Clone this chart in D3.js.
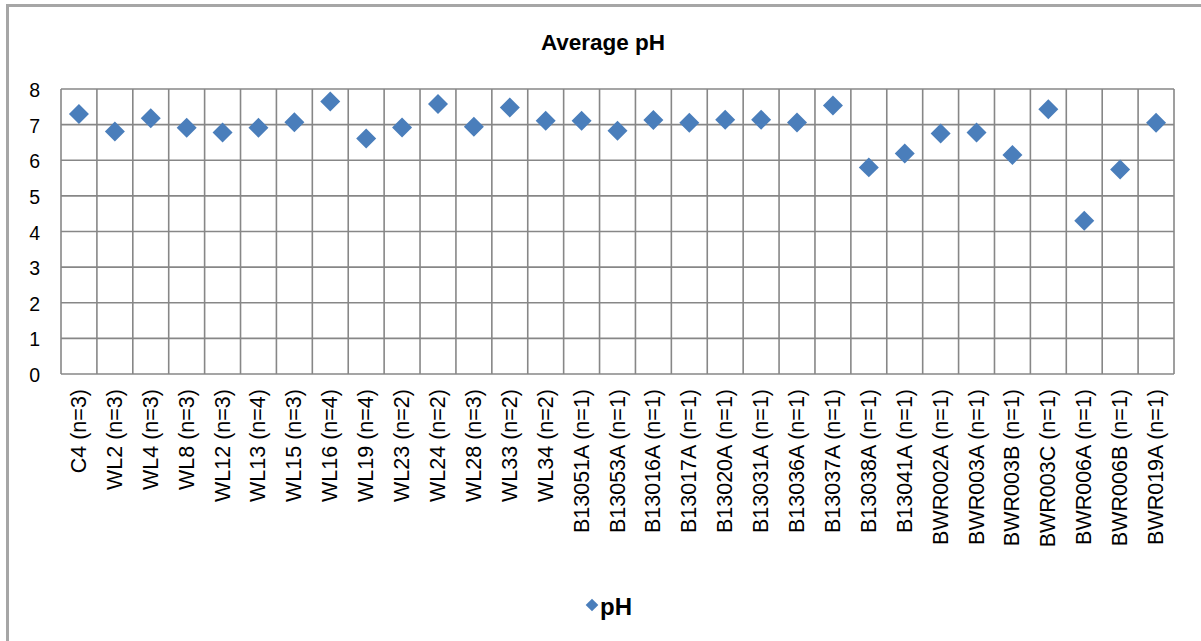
<!DOCTYPE html>
<html>
<head>
<meta charset="utf-8">
<script src="https://d3js.org/d3.v7.min.js"></script>
<style>
  body { margin: 0; background: #fff; }
  svg text { font-family: "Liberation Sans", Arial, sans-serif; fill: #000; }
</style>
</head>
<body>
<div id="chart"></div>
<script>
// sites along the x axis
var sites = ["C4 (n=3)", "WL2 (n=3)", "WL4 (n=3)", "WL8 (n=3)", "WL12 (n=3)", "WL13 (n=4)",
  "WL15 (n=3)", "WL16 (n=4)", "WL19 (n=4)", "WL23 (n=2)", "WL24 (n=2)", "WL28 (n=3)",
  "WL33 (n=2)", "WL34 (n=2)", "B13051A (n=1)", "B13053A (n=1)", "B13016A (n=1)",
  "B13017A (n=1)", "B13020A (n=1)", "B13031A (n=1)", "B13036A (n=1)", "B13037A (n=1)",
  "B13038A (n=1)", "B13041A (n=1)", "BWR002A (n=1)", "BWR003A (n=1)", "BWR003B (n=1)",
  "BWR003C (n=1)", "BWR006A (n=1)", "BWR006B (n=1)", "BWR019A (n=1)"];

// average pH per site
var ph = [7.30, 6.81, 7.18, 6.91, 6.78, 6.91, 7.07, 7.65, 6.61, 6.92, 7.58, 6.94,
  7.48, 7.11, 7.11, 6.83, 7.13, 7.05, 7.14, 7.14, 7.06, 7.54, 5.80, 6.19,
  6.75, 6.78, 6.15, 7.43, 4.30, 5.74, 7.05];

var yTicks = [0, 1, 2, 3, 4, 5, 6, 7, 8];

var W = 1201, H = 641;
// plot area edges (note: "top" is reserved on window, so use plot*)
var plotL = 61, plotR = 1174, plotT = 89, plotB = 374;
var blue = "#4a7ebb", grid = "#878787";

var svg = d3.select("#chart").append("svg")
  .attr("width", W).attr("height", H);

// outer chart border
svg.append("rect")
  .attr("x", 7.5).attr("y", 5.5).attr("width", 1200).attr("height", 640)
  .attr("fill", "#fff").attr("stroke", "#a6a6a6").attr("stroke-width", 3);

var x = d3.scaleBand().domain(sites).range([plotL, plotR]);
var y = d3.scaleLinear().domain([0, 8]).range([plotB, plotT]);

//horizontal gridlines + y labels
svg.append("g").selectAll("line").data(yTicks).enter().append("line")
  .attr("x1", plotL).attr("x2", plotR)
  .attr("y1", function(d) { return y(d); }).attr("y2", function(d) { return y(d); })
  .attr("stroke", grid).attr("stroke-width", 1.6);

svg.append("g").selectAll("text").data(yTicks).enter().append("text")
  .attr("x", 40).attr("y", function(d) { return y(d) + 1; })
  .attr("text-anchor", "end").attr("dominant-baseline", "central")
  .style("font-size", "19.5px")
  .text(function(d) { return d; });

// vertical gridlines at category edges
var edges = sites.map(function(s) { return x(s); }).concat([plotR]);
svg.append("g").selectAll("line").data(edges).enter().append("line")
  .attr("x1", function(d) { return d; }).attr("x2", function(d) { return d; })
  .attr("y1", plotT).attr("y2", plotB)
  .attr("stroke", grid).attr("stroke-width", 1.6);

// rotated category labels
svg.append("g").selectAll("text").data(sites).enter().append("text")
  .attr("transform", function(d) {
    return "translate(" + (x(d) + x.bandwidth() / 2) + "," + 389 + ") rotate(-90)";
  })
  .attr("text-anchor", "end").attr("dominant-baseline", "central")
  .style("font-size", "21.5px")
  .text(function(d) { return d; });

// markers
var diamond = d3.symbol().type(d3.symbolSquare).size(200);
svg.append("g").selectAll("path").data(ph).enter().append("path")
  .attr("d", diamond)
  .attr("transform", function(d, i) {
    return "translate(" + (x(sites[i]) + x.bandwidth() / 2) + "," + y(d) + ") rotate(45)";
  })
  .attr("fill", blue);

// title
svg.append("text")
  .attr("x", 603).attr("y", 42)
  .attr("text-anchor", "middle").attr("dominant-baseline", "central")
  .style("font-size", "22.5px").style("font-weight", "bold")
  .text("Average pH");

// legend
svg.append("path")
  .attr("d", d3.symbol().type(d3.symbolSquare).size(80))
  .attr("transform", "translate(592,605) rotate(45)")
  .attr("fill", blue);
svg.append("text")
  .attr("x", 600).attr("y", 606)
  .attr("dominant-baseline", "central")
  .style("font-size", "24px").style("font-weight", "bold")
  .text("pH");
</script>
</body>
</html>
